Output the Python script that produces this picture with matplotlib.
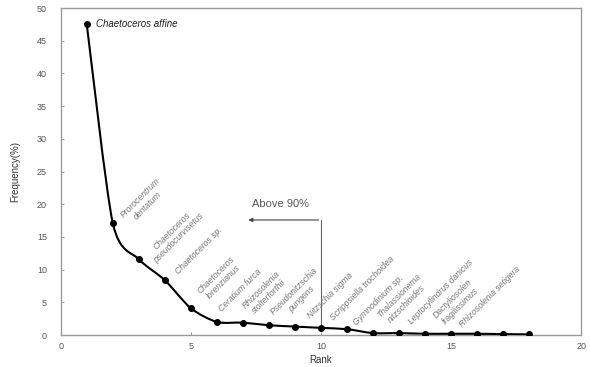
import matplotlib
matplotlib.use("Agg")
import matplotlib.pyplot as plt
from matplotlib.path import Path
from matplotlib.patches import PathPatch
import numpy as np

plt.rcParams['font.family'] = ['Liberation Sans', 'DejaVu Sans']

rank = list(range(1, 19))
freq = [47.5, 17.1, 11.6, 8.4, 4.1, 2.0, 1.9, 1.5, 1.3, 1.1, 0.9, 0.3, 0.3, 0.2, 0.2, 0.2, 0.15, 0.1]
species = ["Chaetoceros affine", "Prorocentrum\ndentatum", "Chaetoceros\npseudocurvisetus",
           "Chaetoceros sp.", "Chaetoceros\nlorenzianus", "Ceratium furca",
           "Rhizosolenia\nstolterforthii", "Pseudonitzschia\npungens", "Nitzschia sigma",
           "Scrippsiella trochoidea", "Gymnodinium sp.", "Thalassionema\nnitzschioides",
           "Leptocylindrus danicus", "Dactyliosolen\nfragilissimus", "Rhizosolenia setigera"]
# label centre positions (data coords) for rotated labels 2..15
label_pos = [(3.2, 20.4), (4.4, 15.4), (5.3, 12.9), (6.1, 8.7), (6.9, 6.9), (7.85, 6.4),
             (9.1, 6.1), (10.35, 6.1), (11.6, 7.2), (12.2, 5.4), (13.15, 5.4), (14.6, 6.6),
             (15.2, 5.0), (16.5, 5.9)]

fig = plt.figure(figsize=(5.9, 3.67), dpi=100)
ax = fig.add_axes([0.103, 0.087, 0.882, 0.891])
ax.set_xlim(0, 20)
ax.set_ylim(0, 50)

# smooth curve (cubic Bezier spline) through the data
x = np.array(rank, float)
y = np.array(freq, float)
verts = [(x[0], y[0])]
codes = [Path.MOVETO]
t = 0.13
for i in range(len(x) - 1):
    p0 = (x[i - 1], y[i - 1]) if i > 0 else (x[i], y[i])
    p1 = (x[i], y[i])
    p2 = (x[i + 1], y[i + 1])
    p3 = (x[i + 2], y[i + 2]) if i + 2 < len(x) else p2
    c1 = (p1[0] + (p2[0] - p0[0]) * t, p1[1] + (p2[1] - p0[1]) * t)
    c2 = (p2[0] - (p3[0] - p1[0]) * t, p2[1] - (p3[1] - p1[1]) * t)
    verts += [c1, c2, p2]
    codes += [Path.CURVE4] * 3
ax.add_patch(PathPatch(Path(verts, codes), fill=False, lw=1.5, ec='black', zorder=3))
ax.plot(rank, freq, 'o', color='black', ms=4, zorder=4)

ax.text(1.35, freq[0], species[0], fontsize=7, style='italic', color='#222222',
        va='center', ha='left')
for name, (lx, ly) in zip(species[1:], label_pos):
    ax.text(lx, ly, name, fontsize=6.2, style='italic', color='#777777', rotation=45,
            ha='center', va='center', multialignment='center')

# Above 90% bracket
ax.plot([10, 10], [freq[9], 17.6], color='#666666', lw=0.8, zorder=2)
ax.annotate('', xy=(7.1, 17.6), xytext=(10.02, 17.6),
            arrowprops=dict(arrowstyle='-|>', color='#444444', lw=0.8, mutation_scale=6))
ax.text(8.45, 20.0, 'Above 90%', fontsize=8, color='#555555', ha='center', va='center')

ax.set_xticks([0, 5, 10, 15, 20])
ax.set_yticks(range(0, 51, 5))
ax.tick_params(direction='in', length=2, width=0.6, colors='#888888', labelsize=6.5,
               labelcolor='#555555', pad=5)
ax.tick_params(axis='y', pad=10)
for s in ax.spines.values():
    s.set_color('#999999')
    s.set_linewidth(1.0)
ax.set_xlabel('Rank', fontsize=7, color='#333333', labelpad=3)
ax.set_ylabel('Frequency(%)', fontsize=7, color='#333333', labelpad=12)

fig.savefig('out.png', dpi=100)
